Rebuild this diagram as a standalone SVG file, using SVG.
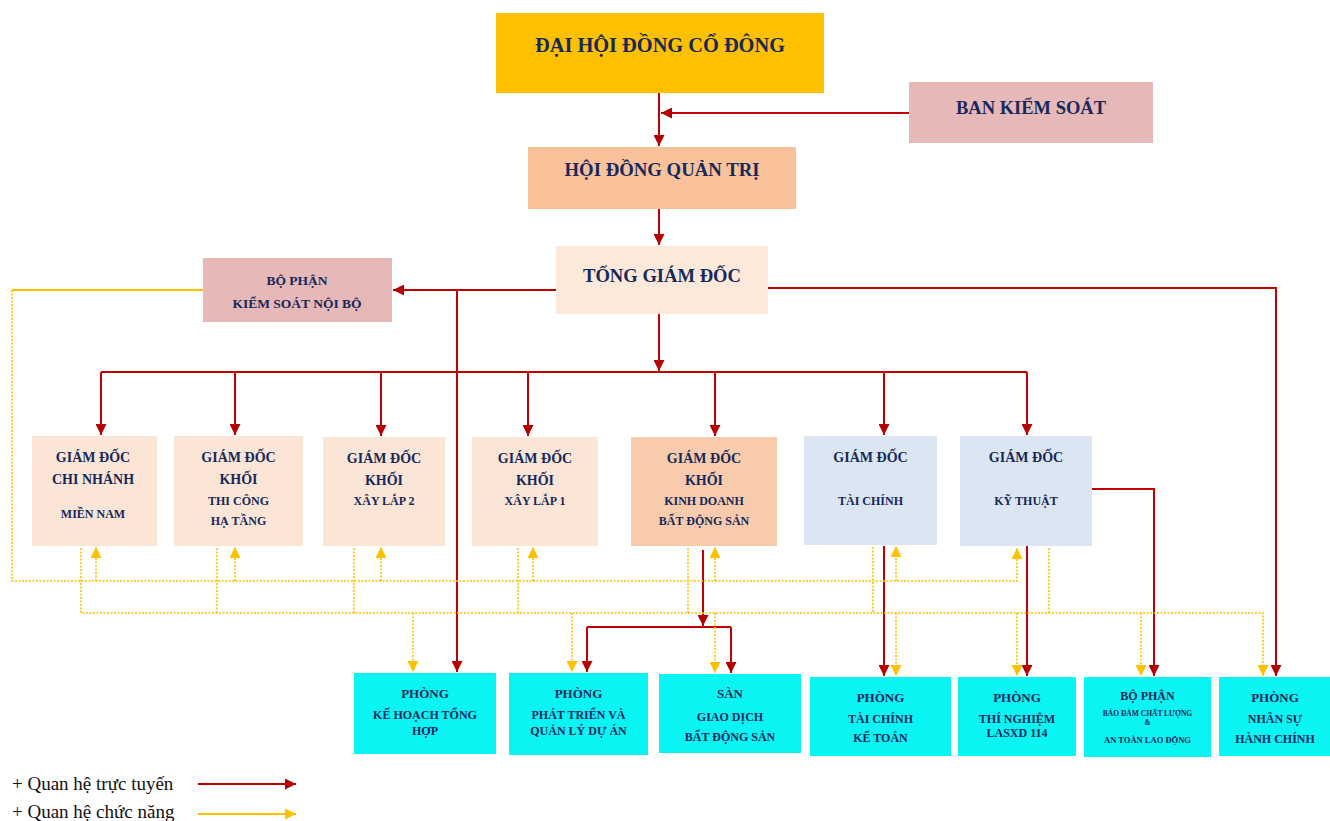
<svg xmlns="http://www.w3.org/2000/svg" width="1330" height="821" viewBox="0 0 1330 821">
<style>
.t{font-family:"Liberation Serif","Times New Roman",serif;font-weight:bold;fill:#16295A;text-anchor:middle;dominant-baseline:central}
.ln{stroke:#C00000;stroke-width:2;fill:none}
.fs{stroke:#FFC000;stroke-width:1.8;fill:none}
.fn{stroke:#FFC000;stroke-width:1.6;stroke-dasharray:2 1.5;fill:none}
.lg{font-family:"Liberation Serif","Times New Roman",serif;font-size:19px;fill:#111}
.peach{fill:#FBE5D6}.blue{fill:#DCE6F2}.cyan{fill:#0AF4F4}
</style>
<defs>
<marker id="ar" viewBox="0 0 10 10" refX="10" refY="5" markerWidth="11" markerHeight="11" markerUnits="userSpaceOnUse" orient="auto"><path d="M0,0 L10,5 L0,10 z" fill="#B40000"/></marker>
<marker id="ay" viewBox="0 0 10 10" refX="10" refY="5" markerWidth="11" markerHeight="11" markerUnits="userSpaceOnUse" orient="auto"><path d="M0,0 L10,5 L0,10 z" fill="#FFC000"/></marker>
</defs>
<rect width="1330" height="821" fill="#fff"/>

<g id="n-dhdcd"><rect x="496" y="13" width="328" height="80" fill="#FFC000"/><text class="t" x="660" y="45" font-size="21" textLength="250" lengthAdjust="spacingAndGlyphs">ĐẠI HỘI ĐỒNG CỔ ĐÔNG</text></g>
<g id="n-bks"><rect x="909" y="82" width="244" height="61" fill="#E6B8B7"/><text class="t" x="1031" y="108" font-size="18.5" textLength="150" lengthAdjust="spacingAndGlyphs">BAN KIỂM SOÁT</text></g>
<g id="n-hdqt"><rect x="528" y="147" width="268" height="62" fill="#F9C29A"/><text class="t" x="662" y="170" font-size="18.5" textLength="195" lengthAdjust="spacingAndGlyphs">HỘI ĐỒNG QUẢN TRỊ</text></g>
<g id="n-tgd"><rect x="556" y="246" width="212" height="68" fill="#FDE9D9"/><text class="t" x="662" y="275" font-size="19" textLength="158" lengthAdjust="spacingAndGlyphs">TỔNG GIÁM ĐỐC</text></g>
<g id="n-ksnb"><rect x="203" y="258" width="189" height="64" fill="#E6B8B7"/><text class="t" x="297" y="280" font-size="13.5">BỘ PHẬN</text><text class="t" x="297" y="303" font-size="13.5">KIỂM SOÁT NỘI BỘ</text></g>

<g id="n-cn"><rect class="peach" x="32" y="436" width="125" height="110"/><text class="t" x="93" y="457" font-size="14">GIÁM ĐỐC</text><text class="t" x="93" y="479" font-size="14">CHI NHÁNH</text><text class="t" x="93" y="514" font-size="12">MIỀN NAM</text></g>
<g id="n-tc"><rect class="peach" x="174" y="436" width="129" height="110"/><text class="t" x="238.5" y="457" font-size="14">GIÁM ĐỐC</text><text class="t" x="238.5" y="479" font-size="14">KHỐI</text><text class="t" x="238.5" y="501" font-size="12">THI CÔNG</text><text class="t" x="238.5" y="521" font-size="12">HẠ TẦNG</text></g>
<g id="n-xl2"><rect class="peach" x="323" y="437" width="122" height="109"/><text class="t" x="384" y="458" font-size="14">GIÁM ĐỐC</text><text class="t" x="384" y="480" font-size="14">KHỐI</text><text class="t" x="384" y="501" font-size="12">XÂY LẮP 2</text></g>
<g id="n-xl1"><rect class="peach" x="472" y="437" width="126" height="109"/><text class="t" x="535" y="458" font-size="14">GIÁM ĐỐC</text><text class="t" x="535" y="480" font-size="14">KHỐI</text><text class="t" x="535" y="501" font-size="12">XÂY LẮP 1</text></g>
<g id="n-kd"><rect x="631" y="437" width="146" height="109" fill="#F8CBAD"/><text class="t" x="704" y="458" font-size="14">GIÁM ĐỐC</text><text class="t" x="704" y="480" font-size="14">KHỐI</text><text class="t" x="704" y="501" font-size="12">KINH DOANH</text><text class="t" x="704" y="521" font-size="12">BẤT ĐỘNG SẢN</text></g>
<g id="n-tchinh"><rect class="blue" x="804" y="436" width="133" height="109"/><text class="t" x="870.5" y="457" font-size="14">GIÁM ĐỐC</text><text class="t" x="870.5" y="501" font-size="12">TÀI CHÍNH</text></g>
<g id="n-kt"><rect class="blue" x="960" y="436" width="132" height="110"/><text class="t" x="1026" y="457" font-size="14">GIÁM ĐỐC</text><text class="t" x="1026" y="501" font-size="12">KỸ THUẬT</text></g>

<g id="n-khth"><rect class="cyan" x="354" y="673" width="142" height="81"/><text class="t" x="425" y="693" font-size="13">PHÒNG</text><text class="t" x="425" y="715" font-size="12">KẾ HOẠCH TỔNG</text><text class="t" x="425" y="731" font-size="12">HỢP</text></g>
<g id="n-pt"><rect class="cyan" x="509" y="673" width="139" height="82"/><text class="t" x="578.5" y="693" font-size="13">PHÒNG</text><text class="t" x="578.5" y="715" font-size="12">PHÁT TRIỂN VÀ</text><text class="t" x="578.5" y="731" font-size="12">QUẢN LÝ DỰ ÁN</text></g>
<g id="n-san"><rect class="cyan" x="659" y="674" width="142" height="79"/><text class="t" x="730" y="693" font-size="13">SÀN</text><text class="t" x="730" y="717" font-size="12">GIAO DỊCH</text><text class="t" x="730" y="737" font-size="12">BẤT ĐỘNG SẢN</text></g>
<g id="n-tckt"><rect class="cyan" x="810" y="677" width="141" height="79"/><text class="t" x="880.5" y="697" font-size="13">PHÒNG</text><text class="t" x="880.5" y="719" font-size="12">TÀI CHÍNH</text><text class="t" x="880.5" y="738" font-size="12">KẾ TOÁN</text></g>
<g id="n-tn"><rect class="cyan" x="958" y="677" width="118" height="79"/><text class="t" x="1017" y="697" font-size="13">PHÒNG</text><text class="t" x="1017" y="719" font-size="12">THÍ NGHIỆM</text><text class="t" x="1017" y="733" font-size="12">LASXD 114</text></g>
<g id="n-bdcl"><rect class="cyan" x="1084" y="677" width="127" height="80"/><text class="t" x="1147.5" y="696" font-size="12">BỘ PHẬN</text><text class="t" x="1147.5" y="713" font-size="7.5">BẢO ĐẢM CHẤT LƯỢNG</text><text class="t" x="1147.5" y="722" font-size="7.5">&amp;</text><text class="t" x="1147.5" y="740" font-size="8.5">AN TOÀN LAO ĐỘNG</text></g>
<g id="n-ns"><rect class="cyan" x="1219" y="677" width="111" height="79"/><text class="t" x="1275" y="697" font-size="13">PHÒNG</text><text class="t" x="1275" y="719" font-size="12">NHÂN SỰ</text><text class="t" x="1275" y="739" font-size="12">HÀNH CHÍNH</text></g>

<g id="connectors">
<path class="ln" d="M659,93 V146" marker-end="url(#ar)"/>
<path class="ln" d="M909,113 H661" marker-end="url(#ar)"/>
<path class="ln" d="M659,209 V245" marker-end="url(#ar)"/>
<path class="ln" d="M556,290 H393" marker-end="url(#ar)"/>
<path class="ln" d="M457,290 V672" marker-end="url(#ar)"/>
<path class="ln" d="M768,288 H1276 V676" marker-end="url(#ar)"/>
<path class="ln" d="M659,314 V371" marker-end="url(#ar)"/>
<path class="ln" d="M101,372 H1027"/>
<path class="ln" d="M101,372 V435" marker-end="url(#ar)"/>
<path class="ln" d="M235,372 V435" marker-end="url(#ar)"/>
<path class="ln" d="M381,372 V436" marker-end="url(#ar)"/>
<path class="ln" d="M528,372 V436" marker-end="url(#ar)"/>
<path class="ln" d="M715,372 V436" marker-end="url(#ar)"/>
<path class="ln" d="M884,372 V435" marker-end="url(#ar)"/>
<path class="ln" d="M1027,372 V435" marker-end="url(#ar)"/>
<path class="ln" d="M1092,489 H1154 V676" marker-end="url(#ar)"/>
<path class="ln" d="M703,550 V626" marker-end="url(#ar)"/>
<path class="ln" d="M587,627 H731"/>
<path class="ln" d="M587,627 V672" marker-end="url(#ar)"/>
<path class="ln" d="M731,627 V673" marker-end="url(#ar)"/>
<path class="ln" d="M884,546 V676" marker-end="url(#ar)"/>
<path class="ln" d="M1027,546 V676" marker-end="url(#ar)"/>

<path class="fs" d="M203,290 H12"/>
<path class="fn" d="M12,290 V581 H1017 V548" marker-end="url(#ay)"/>
<path class="fn" d="M96,581 V547" marker-end="url(#ay)"/>
<path class="fn" d="M235,581 V547" marker-end="url(#ay)"/>
<path class="fn" d="M381,581 V547" marker-end="url(#ay)"/>
<path class="fn" d="M533,581 V547" marker-end="url(#ay)"/>
<path class="fn" d="M715,581 V547" marker-end="url(#ay)"/>
<path class="fn" d="M896,581 V546" marker-end="url(#ay)"/>
<path class="fn" d="M81,548 V613 H1263 V676" marker-end="url(#ay)"/>
<path class="fn" d="M217,548 V613 M354,548 V613 M518,548 V613 M688,548 V613 M873,547 V613 M1049,548 V613"/>
<path class="fn" d="M413,613 V672" marker-end="url(#ay)"/>
<path class="fn" d="M572,613 V672" marker-end="url(#ay)"/>
<path class="fn" d="M715,613 V673" marker-end="url(#ay)"/>
<path class="fn" d="M896,613 V676" marker-end="url(#ay)"/>
<path class="fn" d="M1017,613 V676" marker-end="url(#ay)"/>
<path class="fn" d="M1141,613 V676" marker-end="url(#ay)"/>
</g>

<g id="legend">
<text class="lg" x="12" y="790">+ Quan hệ trực tuyến</text>
<path class="ln" d="M198,784 H296" marker-end="url(#ar)"/>
<text class="lg" x="12" y="818">+ Quan hệ chức năng</text>
<path class="fs" d="M198,814 H296" marker-end="url(#ay)"/>
</g>
</svg>
